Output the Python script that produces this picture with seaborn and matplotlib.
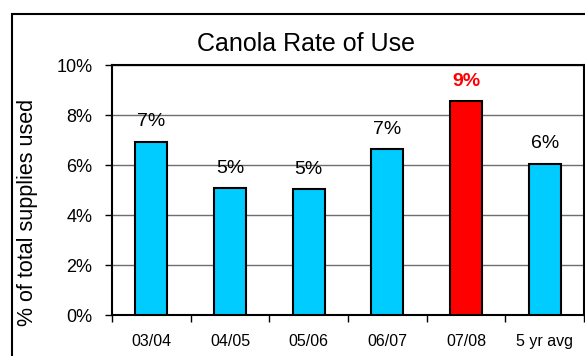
import matplotlib
matplotlib.use("Agg")
import matplotlib.pyplot as plt
import matplotlib.ticker as mticker
from matplotlib.patches import Rectangle
import seaborn as sns
import pandas as pd

# Canola rate of use by crop year, % of total supplies
seasons = ["03/04", "04/05", "05/06", "06/07", "07/08", "5 yr avg"]
use_rate = [6.92, 5.07, 5.03, 6.64, 8.56, 6.04]
bar_colors = ["#00CCFF", "#00CCFF", "#00CCFF", "#00CCFF", "#FF0000", "#00CCFF"]
label_colors = ["black", "black", "black", "black", "#FF0000", "black"]
label_weights = ["normal", "normal", "normal", "normal", "bold", "normal"]
y_ticks = [0, 2, 4, 6, 8, 10]

sns.set_theme(style="white")
plt.rcParams["font.family"] = ["Liberation Sans", "DejaVu Sans"]

df = pd.DataFrame({"season": seasons, "rate": use_rate})

fig = plt.figure(figsize=(5.85, 3.56), dpi=100)
ax = fig.add_axes([112 / 585, 41 / 356, 472 / 585, 250 / 356])

sns.barplot(data=df, x="season", y="rate", hue="season", palette=bar_colors,
            legend=False, width=0.41, edgecolor="black", linewidth=1.5,
            saturation=1, ax=ax, zorder=3)

ax.set_ylim(0, 10)
ax.set_xlim(-0.5, len(seasons) - 0.5)
ax.set_yticks(y_ticks)
ax.yaxis.set_major_formatter(mticker.FuncFormatter(lambda v, p: f"{v:.0f}%"))
ax.yaxis.grid(True, color="#6e6e6e", linewidth=1.0, zorder=0)
ax.set_axisbelow(True)

# category separators as tick marks on the x axis
ax.set_xticks([i - 0.5 for i in range(len(seasons) + 1)], minor=True)
ax.tick_params(axis="x", which="minor", length=5, width=1, color="black",
               direction="out", bottom=True)
ax.tick_params(axis="x", which="major", length=0, pad=14, labelsize=11.5,
               labelcolor="black")
ax.tick_params(axis="y", which="major", length=5, width=1, color="black",
               direction="out", left=True, pad=9, labelsize=13,
               labelcolor="black")

for s in ax.spines.values():
    s.set_visible(True)
    s.set_color("black")
    s.set_linewidth(1.5)

ax.set_xlabel("")
ax.set_ylabel("")

for i, v in enumerate(use_rate):
    ax.text(i, v + 0.8, f"{v:.0f}%", ha="center", va="center", fontsize=14,
            color=label_colors[i], fontweight=label_weights[i], zorder=1)

fig.text(306 / 585, 1 - 44 / 356, "Canola Rate of Use", ha="center",
         va="center", fontsize=18, color="black")
fig.text(28 / 585, 1 - 212 / 356, "% of total supplies used", ha="center",
         va="center", rotation=90, fontsize=15.5, color="black")

# chart area frame
fig.patches.append(Rectangle((12 / 585, -0.1), 1.2, 1 - 14 / 356 + 0.1,
                             transform=fig.transFigure, fill=False,
                             edgecolor="black", linewidth=1.5, zorder=0))

fig.savefig("out.png", dpi=100)
